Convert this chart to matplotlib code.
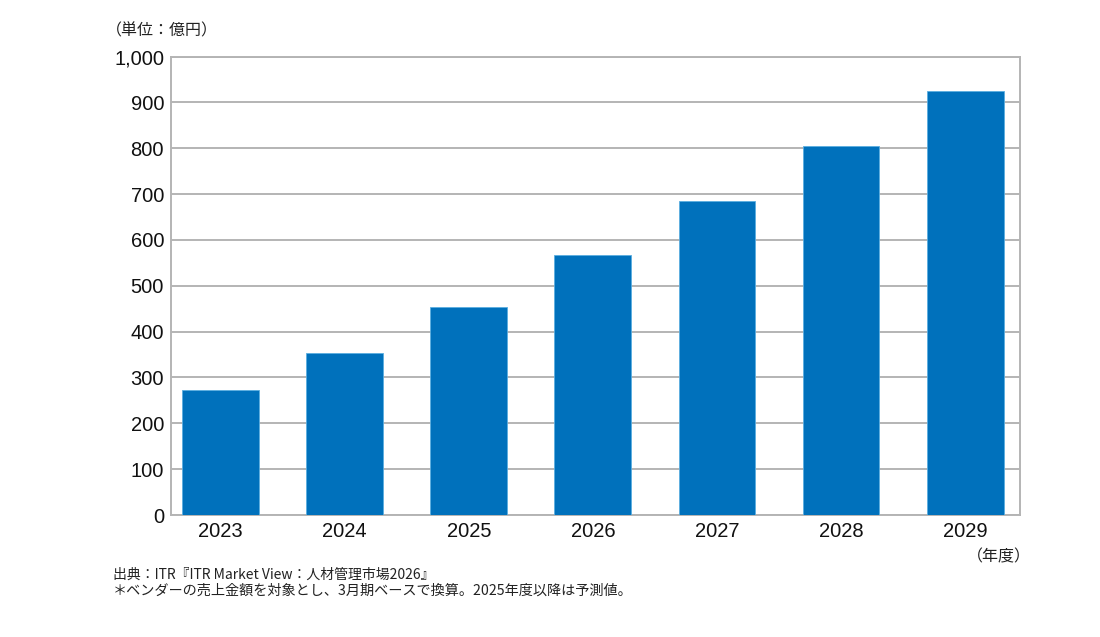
import matplotlib.pyplot as plt
from matplotlib.ticker import FuncFormatter

# データ（単位：億円）
years = ['2023', '2024', '2025', '2026', '2027', '2028', '2029']
values = [273, 353, 454, 567, 685, 804, 925]

bar_color = '#0071bc'
grid_color = '#b4b4b4'

plt.rcParams['font.family'] = ['Liberation Sans', 'Noto Sans CJK JP', 'DejaVu Sans']
jp_font = ['Noto Sans CJK JP', 'DejaVu Sans']

fig = plt.figure(figsize=(11, 6.37), dpi=100)
ax = fig.add_axes([0.1555, 0.1915, 0.7715, 0.7198])

x = range(len(years))
ax.bar(x, values, width=0.62, color=bar_color, edgecolor='#5aaee0', linewidth=0.6, zorder=3)

ax.set_xlim(-0.40, len(years) - 1 + 0.44)
ax.set_ylim(0, 1000)
ax.set_yticks(range(0, 1001, 100))
ax.yaxis.set_major_formatter(FuncFormatter(lambda v, p: f'{int(v):,}'))
ax.set_xticks(list(x))
ax.set_xticklabels(years)

ax.grid(axis='y', color=grid_color, linewidth=1.4, zorder=0)
for s in ax.spines.values():
    s.set_color(grid_color)
    s.set_linewidth(1.4)

ax.tick_params(axis='both', length=0, labelsize=14.5, colors='#111111')
ax.tick_params(axis='y', pad=5)
ax.tick_params(axis='x', pad=5)

fig.text(106 / 1100, 1 - 31 / 637, '（単位：億円）', fontsize=11.5, family=jp_font,
         ha='left', va='center', color='#222222')
fig.text(1031 / 1100, 1 - 557 / 637, '（年度）', fontsize=11.5, family=jp_font,
         ha='right', va='center', color='#222222')
fig.text(113 / 1100, 1 - 575 / 637, '出典：ITR『ITR Market View：人材管理市場2026』',
         fontsize=10, family=jp_font, ha='left', va='center', color='#222222')
fig.text(113 / 1100, 1 - 591 / 637,
         '＊ベンダーの売上金額を対象とし、3月期ベースで換算。2025年度以降は予測値。',
         fontsize=10.2, family=jp_font, ha='left', va='center', color='#222222')

fig.savefig('out.png', dpi=100)
